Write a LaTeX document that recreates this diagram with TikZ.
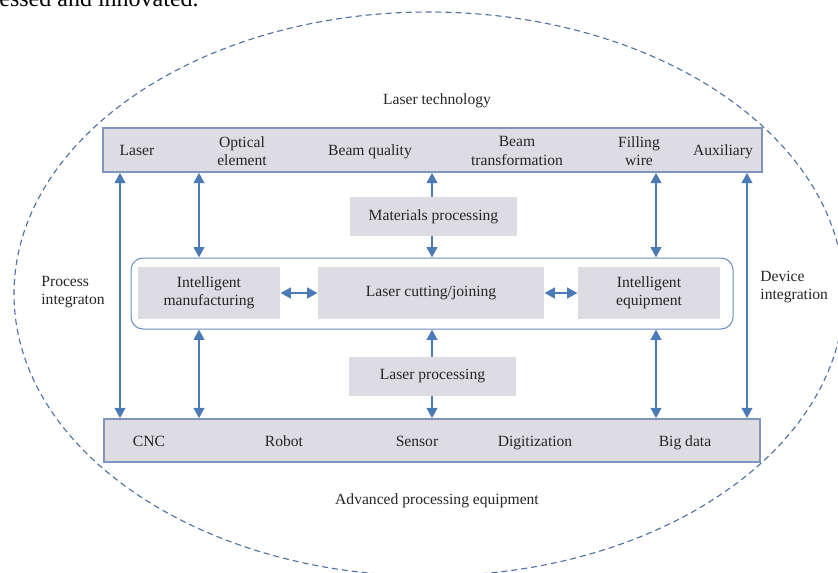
\documentclass[tikz,border=0pt]{standalone}
\usepackage{fontspec}
\setmainfont{Liberation Serif}
\usetikzlibrary{arrows.meta}
\definecolor{boxfill}{HTML}{DCDCE2}
\definecolor{barborder}{HTML}{7F95BC}
\definecolor{arrowc}{HTML}{4A7AB8}
\definecolor{ellc}{HTML}{4F6FA3}
\definecolor{roundc}{HTML}{6A8CC0}
\definecolor{txt}{HTML}{262626}
\tikzset{
  bar/.style={draw=barborder, line width=0.75pt, fill=boxfill, inner sep=0pt},
  gbox/.style={fill=boxfill, inner sep=0pt, text=txt, font=\fontsize{7.8}{9.2}\selectfont, align=center},
  lbltwo/.style={text=txt, font=\fontsize{7.8}{9.2}\selectfont, align=center, inner sep=0pt},
  lbl/.style={lbltwo, text height=0.68em, text depth=0.22em},
  dbl/.style={draw=arrowc, line width=1.4pt, {Triangle[width=5.2pt,length=5.2pt]}-{Triangle[width=5.2pt,length=5.2pt]}},
  onearrow/.style={draw=arrowc, line width=1.4pt, -{Triangle[width=5.2pt,length=5.2pt]}},
}
\begin{document}
\begin{tikzpicture}[x=0.5pt,y=-0.5pt]
\useasboundingbox (0,0) rectangle (838,572);
\fill[white] (0,0) rectangle (838,572);
\begin{scope}
\clip (0,0) rectangle (838,572);
\node[anchor=base west, inner sep=0pt, text=black, font=\fontsize{12}{14}\selectfont] (frag) at (-1,6.7) {essed and innovated.};
\draw[ellc, line width=0.55pt, dash pattern=on 3pt off 2pt] (429,294) ellipse [x radius=207.5pt, y radius=141pt];
\end{scope}

% bars
\node[bar, minimum width=329.5pt, minimum height=22pt] (top) at (432.5,150) {};
\node[bar, minimum width=328pt, minimum height=21.5pt] (bot) at (432,440.5) {};
\node[draw=roundc, line width=0.5pt, fill=white, rounded corners=6pt, minimum width=301pt, minimum height=35.5pt, inner sep=0pt] (mid) at (432,293.5) {};

% gray boxes
\node[gbox, minimum width=71pt, minimum height=26pt] (im) at (209,293) {Intelligent\\manufacturing};
\node[gbox, minimum width=113pt, minimum height=26pt] (lcj) at (431,293) {Laser cutting/joining};
\node[gbox, minimum width=71pt, minimum height=26pt] (ie) at (649,293) {Intelligent\\equipment};
\node[gbox, minimum width=83.5pt, minimum height=19.5pt] (mp) at (433.5,216.5) {Materials processing};
\node[gbox, minimum width=83.5pt, minimum height=19.5pt] (lp) at (432.5,376.5) {Laser processing};

% labels
\node[lbl] (lt) at (437,100) {Laser technology};
\node[lbl] (t1) at (137,151) {Laser};
\node[lbltwo] (t2) at (242,151) {Optical\\element};
\node[lbl] (t3) at (370,151) {Beam quality};
\node[lbltwo] (t4) at (517,151) {Beam\\transformation};
\node[lbltwo] (t5) at (639,151) {Filling\\wire};
\node[lbl] (t6) at (723,151) {Auxiliary};

\node[lbl] (b1) at (149,442) {CNC};
\node[lbl] (b2) at (284,442) {Robot};
\node[lbl] (b3) at (417,442) {Sensor};
\node[lbl] (b4) at (535,442) {Digitization};
\node[lbl] (b5) at (685,442) {Big data};
\node[lbl] (ape) at (437,500) {Advanced processing equipment};

\node[lbltwo, align=left, anchor=west] (pi) at (41,292) {Process\\integraton};
\node[lbltwo, align=left, anchor=west] (di) at (760,287) {Device\\integration};

% x positions of connectors
\coordinate (xa) at (120,0);
\coordinate (xb) at (199,0);
\coordinate (xc) at (432,0);
\coordinate (xd) at (656,0);
\coordinate (xe) at (747,0);

\draw[dbl] (top.south -| xa) -- (bot.north -| xa);
\draw[dbl] (top.south -| xe) -- (bot.north -| xe);
\draw[dbl] (top.south -| xb) -- (mid.north -| xb);
\draw[dbl] (mid.south -| xb) -- (bot.north -| xb);
\draw[dbl] (top.south -| xd) -- (mid.north -| xd);
\draw[dbl] (mid.south -| xd) -- (bot.north -| xd);
\draw[onearrow] (mp.north -| xc) -- (top.south -| xc);
\draw[onearrow] (mp.south -| xc) -- (mid.north -| xc);
\draw[onearrow] (lp.north -| xc) -- (mid.south -| xc);
\draw[onearrow] (lp.south -| xc) -- (bot.north -| xc);
\draw[dbl] (im.east) -- (lcj.west);
\draw[dbl] (lcj.east) -- (ie.west);
\end{tikzpicture}
\end{document}
